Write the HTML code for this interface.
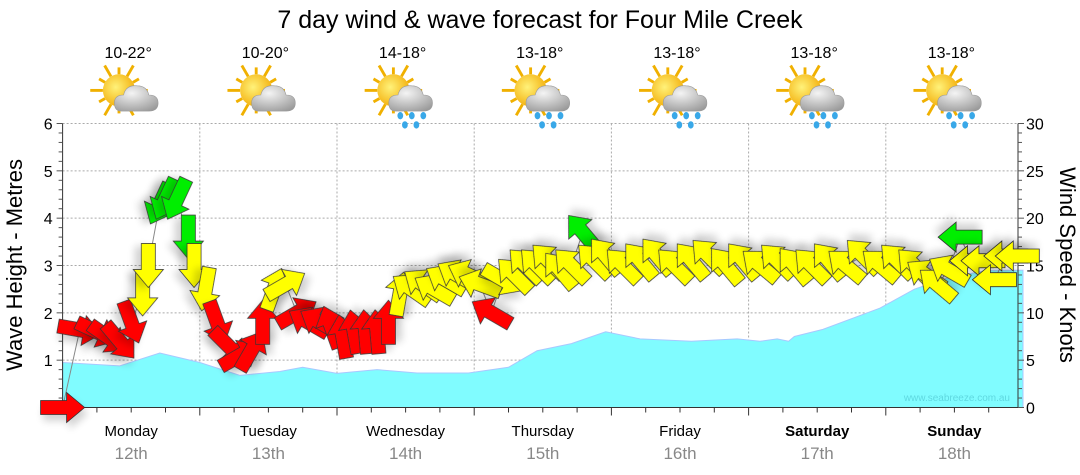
<!DOCTYPE html>
<html><head><meta charset="utf-8"><style>
body{margin:0;background:#fff;}
svg{display:block;font-family:"Liberation Sans",sans-serif;}
</style></head><body>
<svg id="c" width="1080" height="475" viewBox="0 0 1080 475">
<defs>
<filter id="sh" x="-50%" y="-50%" width="200%" height="200%"><feGaussianBlur in="SourceAlpha" stdDeviation="4"/><feOffset dx="3" dy="6"/><feComponentTransfer><feFuncA type="linear" slope="0.18"/></feComponentTransfer><feMerge><feMergeNode/><feMergeNode in="SourceGraphic"/></feMerge></filter>
<radialGradient id="cl" cx="0.4" cy="0.3" r="0.8"><stop offset="0" stop-color="#f4f4f4"/><stop offset="1" stop-color="#9a9a9a"/></radialGradient>
<radialGradient id="sn" cx="0.4" cy="0.4" r="0.7"><stop offset="0" stop-color="#fff27a"/><stop offset="1" stop-color="#f2a800"/></radialGradient>
</defs>
<text x="540" y="28" text-anchor="middle" font-size="25" fill="#000">7 day wind &amp; wave forecast for Four Mile Creek</text>
<g id="grid"></g>
<g id="wave"></g>
<g id="axes"></g>
<g id="arrows"></g>
<g id="topg"></g>
<text x="1010" y="401" text-anchor="end" font-size="10" fill="#5fd8e0">www.seabreeze.com.au</text>
<text transform="translate(22,265) rotate(-90)" text-anchor="middle" font-size="22">Wave Height - Metres</text>
<text transform="translate(1060,265) rotate(90)" text-anchor="middle" font-size="22">Wind Speed - Knots</text>
</svg>
<script>
const days=["Monday","Tuesday","Wednesday","Thursday","Friday","Saturday","Sunday"];
const dates=["12th","13th","14th","15th","16th","17th","18th"];
const temps=["10-22°","10-20°","14-18°","13-18°","13-18°","13-18°","13-18°"];
const rain=[0,0,1,1,1,1,1];
const leftTicks=[0,1,2,3,4,5,6];
const rightTicks=[0,5,10,15,20,25,30];
const waveHours=[0,10,17,24,31,38,42,48,55,62,71,78,83,89,95,101,110,118,122,125,127,128,133,143,149,155,162,168];
const waveM=[0.95,0.88,1.15,0.95,0.68,0.76,0.85,0.72,0.8,0.73,0.73,0.85,1.2,1.35,1.6,1.45,1.4,1.45,1.4,1.45,1.4,1.5,1.65,2.1,2.5,2.75,2.9,2.9];
const windHours=[0,3,6,8,10,12,14,15,17,18,20,22,23,25,27,29,31,33,35,37,39,41,43,45,47,49,51,53,55,57,59,61,63,65,67,69,71,73,75,77,79,81,83,85,87,89,91,93,95,98,101,104,107,110,113,116,119,122,125,128,131,134,137,140,143,146,149,151,153,155,157,159,161,163,165,167];
const windKt=[0,8.2,8.0,7.4,7.0,9.0,12,15,21.5,22,22,18,15,12.5,9,6.5,5.5,6,9,12.5,13,10,9,9,8.5,7.5,8,8,8,9,12,12.5,13,12.5,13.5,14,14,13,10,13.5,14,15,15,15.5,14.5,15,18.5,15.5,16,15,15.5,16,15,15.5,16,15,15.5,15,15.5,15,15,15.5,15,16,15,15.5,15,14,13,14.5,18,15.5,15.5,13.5,16,16];
const windDir=[0,10,25,35,50,70,90,90,115,115,115,90,90,100,70,45,330,300,270,290,330,330,210,210,250,260,260,265,265,270,280,215,215,210,210,210,205,200,210,30,225,225,225,225,230,225,230,225,230,225,230,230,225,230,225,230,230,220,225,230,225,230,220,225,220,225,225,215,220,210,180,180,180,180,180,180];
const NS="http://www.w3.org/2000/svg";
const X0=62.6,DW=137.2,YB=407.5,YT=123.5;
const xS=h=>X0+h*DW/24;
const yM=m=>YB-m*(YB-YT)/6;
const yK=k=>YB-k*(YB-YT)/30;
function mk(tag,at,par){const e=document.createElementNS(NS,tag);for(const k in at)e.setAttribute(k,at[k]);par.appendChild(e);return e;}
const gridG=document.getElementById('grid'),axesG=document.getElementById('axes'),waveG=document.getElementById('wave'),arrG=document.getElementById('arrows'),topG=document.getElementById('topg');
leftTicks.forEach(v=>{if(v>0){const l=mk('line',{x1:X0,x2:1018,y1:yM(v),y2:yM(v),stroke:'#aaa','stroke-dasharray':'2,2'},gridG);}});
for(let d=1;d<7;d++){const l=mk('line',{x1:xS(d*24),x2:xS(d*24),y1:YT,y2:YB,stroke:'#aaa','stroke-dasharray':'2,2'},gridG);}
let dp='M'+xS(waveHours[0])+','+YB;waveHours.forEach((h,i)=>{dp+=' L'+xS(h)+','+yM(waveM[i]);});dp+=' L'+xS(waveHours[waveHours.length-1])+','+YB+'Z';
const wa=mk('path',{d:dp,fill:'#80fcff',stroke:'#a8c8ff','stroke-width':1},waveG);


mk('line',{x1:X0,x2:X0,y1:YT,y2:YB,stroke:'#333'},axesG);
mk('line',{x1:1018,x2:1018,y1:YT,y2:YB,stroke:'#333'},axesG);
mk('line',{x1:X0,x2:1018,y1:YB,y2:YB,stroke:'#333'},axesG);
for(let i=0;i<=30;i++){const y=YB-i*(YB-YT)/30;const L=i%5==0?6:4;mk('line',{x1:X0-L,x2:X0,y1:y,y2:y,stroke:'#555'},axesG);mk('line',{x1:1018,x2:1018+L,y1:y,y2:y,stroke:'#555'},axesG);}
leftTicks.forEach(v=>{const t=mk('text',{x:X0-10,y:yM(v)+6,'text-anchor':'end','font-size':16},axesG);t.textContent=v;});
rightTicks.forEach(v=>{const t=mk('text',{x:1026,y:yK(v)+6,'font-size':16},axesG);t.textContent=v;});
for(let h=6;h<168;h+=6){const L=h%24==0?8:5;mk('line',{x1:xS(h),x2:xS(h),y1:YB,y2:YB+L,stroke:'#333'},axesG);}
days.forEach((d,i)=>{const cx=xS(i*24+12);
const t=mk('text',{x:cx,y:436,'text-anchor':'middle','font-size':15,'font-weight':i>=5?'bold':'normal'},axesG);t.textContent=d;
const t2=mk('text',{x:cx,y:459,'text-anchor':'middle','font-size':17,fill:'#888'},axesG);t2.textContent=dates[i];
const t3=mk('text',{x:cx-3,y:58,'text-anchor':'middle','font-size':16},topG);t3.textContent=temps[i];
const g=mk('g',{transform:'translate('+(cx-3)+',95) scale(1.15)'},topG);
for(let a=0;a<12;a++){const an=a*30*Math.PI/180;mk('line',{x1:-8+Math.cos(an)*14,y1:-4+Math.sin(an)*14,x2:-8+Math.cos(an)*(a%2?20:25),y2:-4+Math.sin(an)*(a%2?20:25),stroke:'#f0b000','stroke-width':2.5},g);}
mk('circle',{cx:-8,cy:-4,r:14,fill:'url(#sn)'},g);
mk('path',{d:'M-6,14 Q-12,14 -12,7 Q-12,0 -4,0 Q-2,-9 8,-8 Q16,-8 18,0 Q26,0 26,7 Q26,14 18,14Z',fill:'url(#cl)',stroke:'#999','stroke-width':0.5},g);
if(rain[i]){[[-2,18],[8,18],[18,18],[2,26],[12,26]].forEach(p=>mk('ellipse',{cx:p[0],cy:p[1],rx:2.5,ry:3.2,fill:'#39a8e8'},g));}
});
let lp='';windHours.forEach((h,i)=>{lp+=(i?' L':'M')+xS(h)+','+yK(windKt[i]);});
const cl=mk('path',{d:lp,fill:'none',stroke:'#888','stroke-width':1},arrG);


windHours.forEach((h,i)=>{const k=windKt[i];const col=k>=17.5?'#00ee00':(k>=10.5?'#ffff00':'#ff0000');
const g=mk('g',{transform:'translate('+xS(h)+','+yK(k)+') rotate('+windDir[i]+')',filter:'url(#sh)'},arrG);


mk('path',{d:'M-22,-7 L4,-7 L4,-15 L22,0 L4,15 L4,7 L-22,7Z',fill:col,stroke:'#333','stroke-width':0.8},g);});
</script>
</body></html>
